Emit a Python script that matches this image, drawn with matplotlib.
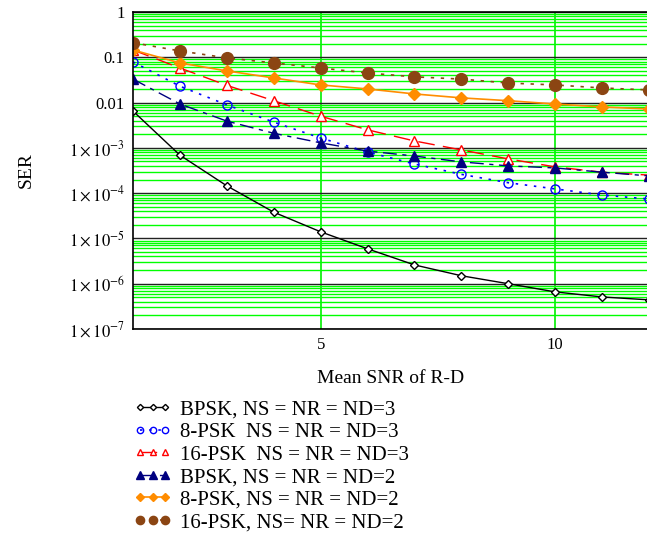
import matplotlib
matplotlib.use("Agg")
import matplotlib.pyplot as plt
import numpy as np
from matplotlib.ticker import FixedLocator, LogLocator, NullFormatter, FixedFormatter

plt.rcParams['font.family'] = ['Liberation Serif', 'DejaVu Serif']
plt.rcParams['mathtext.fontset'] = 'stix'

snr = [1, 2, 3, 4, 5, 6, 7, 8, 9, 10, 11, 12]

bpsk_3 = [6.5e-3, 6.9e-4, 1.45e-4, 3.8e-5, 1.4e-5, 5.9e-6, 2.6e-6, 1.5e-6, 1.0e-6, 6.6e-7, 5.1e-7, 4.4e-7]
psk8_3 = [0.079, 0.023, 8.9e-3, 3.7e-3, 1.65e-3, 8.1e-4, 4.4e-4, 2.6e-4, 1.7e-4, 1.24e-4, 9.1e-5, 7.4e-5]
psk16_3 = [0.145, 0.058, 0.024, 0.011, 5.0e-3, 2.5e-3, 1.42e-3, 9.0e-4, 5.7e-4, 3.8e-4, 2.9e-4, 2.5e-4]
bpsk_2 = [0.033, 9.3e-3, 3.9e-3, 2.1e-3, 1.29e-3, 8.5e-4, 6.6e-4, 4.9e-4, 4.0e-4, 3.6e-4, 2.9e-4, 2.4e-4]
psk8_2 = [0.145, 0.075, 0.050, 0.035, 0.0245, 0.020, 0.0155, 0.0127, 0.011, 9.3e-3, 8.0e-3, 7.2e-3]
psk16_2 = [0.21, 0.138, 0.097, 0.075, 0.058, 0.045, 0.037, 0.033, 0.027, 0.0245, 0.021, 0.019]

labels = ["BPSK, NS = NR = ND=3",
          "8-PSK  NS = NR = ND=3",
          "16-PSK  NS = NR = ND=3",
          "BPSK, NS = NR = ND=2",
          "8-PSK, NS = NR = ND=2",
          "16-PSK, NS= NR = ND=2"]

y_ticks = [1e-7, 1e-6, 1e-5, 1e-4, 1e-3, 0.01, 0.1, 1]
y_ticklabels = [r'$1\times10^{-7}$', r'$1\times10^{-6}$', r'$1\times10^{-5}$',
                r'$1\times10^{-4}$', r'$1\times10^{-3}$', '0.01', '0.1', '1']

fig = plt.figure(figsize=(6.47, 5.33), dpi=100)
ax = fig.add_axes([133 / 647, 1 - 329 / 533, (649 - 133) / 647, (329 - 12) / 533])

ax.plot(snr, bpsk_3, color='black', lw=1, ls='-', marker='D', ms=4.5,
        mfc='white', mec='black', mew=1, label=labels[0])
ax.plot(snr, psk8_3, color='blue', lw=1.2, ls=(0, (1.5, 4)), marker='o', ms=6.5,
        mfc='none', mec='blue', mew=1, label=labels[1])
ax.plot(snr, psk16_3, color='red', lw=1, ls=(0, (12, 6)), marker='^', ms=7,
        mfc='white', mec='red', mew=1, label=labels[2])
ax.plot(snr, bpsk_2, color='#000080', lw=1, ls=(0, (10, 4, 3, 4)), marker='^', ms=7.5,
        mfc='#000080', mec='#000080', label=labels[3])
ax.plot(snr, psk8_2, color='#ff8c00', lw=1.2, ls='-', marker='D', ms=6.5,
        mfc='#ff8c00', mec='#ff8c00', label=labels[4])
ax.plot(snr, psk16_2, color='#8b4513', lw=1.2, ls=(0, (2, 4)), marker='o', ms=8.5,
        mfc='#8b4513', mec='#8b4513', label=labels[5])

ax.set_yscale('log')
ax.set_ylim(1e-7, 1)
ax.set_xlim(1, 12)

ax.yaxis.set_major_locator(FixedLocator(y_ticks))
ax.yaxis.set_major_formatter(FixedFormatter(y_ticklabels))
ax.yaxis.set_minor_locator(LogLocator(base=10, subs=np.arange(2, 10), numticks=20))
ax.yaxis.set_minor_formatter(NullFormatter())
ax.set_xticks([5, 10])
ax.set_xticklabels(['5', '10'])

ax.grid(True, which='minor', axis='y', color='#00ff00', lw=1)
ax.grid(True, which='major', axis='y', color='#222222', lw=1)
ax.grid(True, which='major', axis='x', color='#00ee00', lw=1.2)
ax.set_axisbelow(True)
ax.tick_params(which='both', length=0, labelsize=12, pad=6)

for side in ['top', 'left', 'bottom']:
    ax.spines[side].set_color('black')
    ax.spines[side].set_linewidth(1.2)
ax.spines['right'].set_visible(False)

ax.set_ylabel('SER', fontsize=14, labelpad=24)
ax.set_xlabel('Mean SNR of R-D', fontsize=14, labelpad=12)

handles, labs = ax.get_legend_handles_labels()
fig.legend(handles, labs, loc='upper left', bbox_to_anchor=(134 / 647, 1 - 400 / 533),
           frameon=False, fontsize=15, numpoints=3, handlelength=1.8, handletextpad=0.4,
           labelspacing=0.14, borderaxespad=0, borderpad=0, markerscale=0.7)

fig.savefig('out.png', dpi=100)
